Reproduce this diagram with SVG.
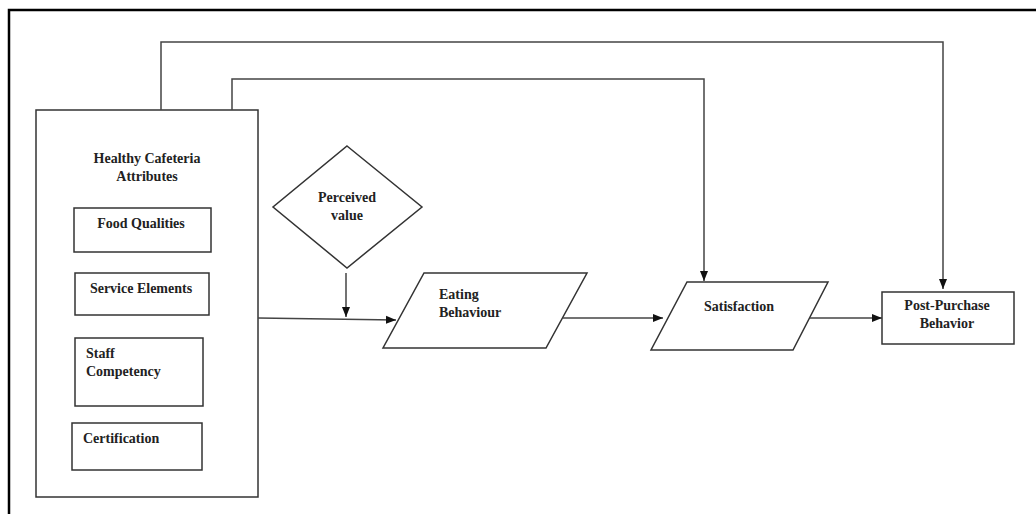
<svg xmlns="http://www.w3.org/2000/svg" width="1036" height="514" viewBox="0 0 1036 514">
<style>
.shape{fill:#fff;stroke:#333;stroke-width:1.5}
.conn{fill:none;stroke:#444;stroke-width:1.5}
.t{font-family:"Liberation Serif","Times New Roman",serif;font-weight:bold;font-size:14px;fill:#222}
.c{text-anchor:middle}
</style>
<defs>
<marker id="arr" viewBox="0 0 10 10" refX="10" refY="5" markerWidth="10" markerHeight="10" markerUnits="userSpaceOnUse" orient="auto">
<path d="M0,1 L10,5 L0,9 Z" fill="#111"/>
</marker>
</defs>
<rect width="1036" height="514" fill="#fff"/>
<path d="M9,514 V10 H1036" fill="none" stroke="#000" stroke-width="2.5"/>
<g id="attributes">
<rect class="shape" x="36" y="110" width="222" height="387"/>
<text class="t c" x="147" y="163">Healthy Cafeteria</text>
<text class="t c" x="147" y="181">Attributes</text>
</g>
<g id="food-qualities">
<rect class="shape" x="74" y="208" width="137" height="44"/>
<text class="t c" x="141" y="228">Food Qualities</text>
</g>
<g id="service-elements">
<rect class="shape" x="75" y="273" width="134" height="42"/>
<text class="t c" x="141" y="293">Service Elements</text>
</g>
<g id="staff-competency">
<rect class="shape" x="75" y="338" width="128" height="68"/>
<text class="t" x="86" y="358">Staff</text>
<text class="t" x="86" y="376">Competency</text>
</g>
<g id="certification">
<rect class="shape" x="72" y="423" width="130" height="47"/>
<text class="t" x="83" y="443">Certification</text>
</g>
<g id="perceived-value">
<polygon class="shape" points="347,146 422,207 347,268 273,207"/>
<text class="t c" x="347" y="202">Perceived</text>
<text class="t c" x="347" y="220">value</text>
</g>
<g id="eating-behaviour">
<polygon class="shape" points="424,273 587,273 546,348 383,348"/>
<text class="t" x="439" y="299">Eating</text>
<text class="t" x="439" y="317">Behaviour</text>
</g>
<g id="satisfaction">
<polygon class="shape" points="687,282 828,282 793,350 651,350"/>
<text class="t c" x="739" y="311">Satisfaction</text>
</g>
<g id="post-purchase">
<rect class="shape" x="882" y="292" width="132" height="52"/>
<text class="t c" x="947" y="310">Post-Purchase</text>
<text class="t c" x="947" y="328">Behavior</text>
</g>
<g id="connectors">
<path class="conn" d="M161,110 V42 H943 V289" marker-end="url(#arr)"/>
<path class="conn" d="M232,110 V79 H704 V281" marker-end="url(#arr)"/>
<path class="conn" d="M346,273 V317" marker-end="url(#arr)"/>
<path class="conn" d="M258,318 L396,320" marker-end="url(#arr)"/>
<path class="conn" d="M563,318 H663" marker-end="url(#arr)"/>
<path class="conn" d="M810,318 H882" marker-end="url(#arr)"/>
</g>
</svg>
